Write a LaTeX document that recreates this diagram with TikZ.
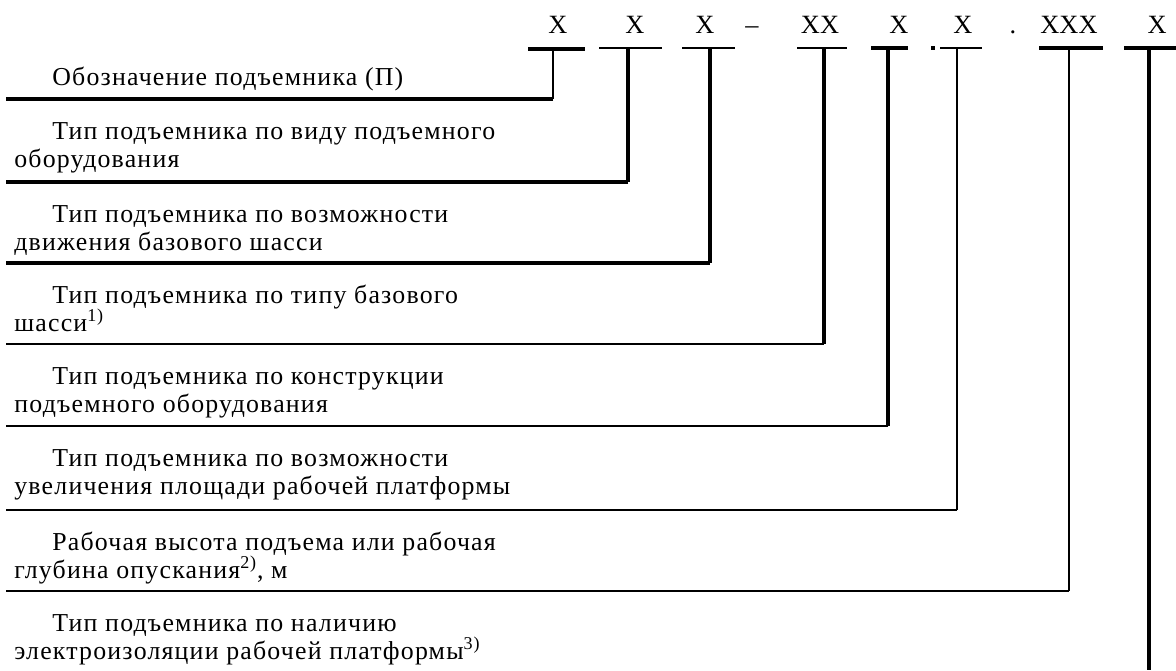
\documentclass[tikz,border=0pt]{standalone}
\usepackage{fontspec}
\setmainfont{Liberation Serif}
\newfontfamily\descfont{Liberation Serif}[LetterSpace=4.7]

\begin{document}
\begin{tikzpicture}[x=0.02cm,y=-0.02cm,
    heavy/.style={line width=1.8pt},
    light/.style={line width=0.9pt}]

  \useasboundingbox (0,0) rectangle (1176,670);

  % code positions
  \begin{scope}[every node/.style={inner sep=0pt,anchor=base,font=\fontsize{15}{18}\selectfont}]
    \node (x1) at (558,33)  {X};
    \node (x2) at (635,33)  {X};
    \node (x3) at (705,33)  {X};
    \node (dash) at (752,33) {--};
    \node (x4) at (820,33)  {XX};
    \node (x5) at (899,33)  {X};
    \node (x6) at (963,33)  {X};
    \node (dot) at (1013,33) {.};
    \node (x7) at (1069,33) {XXX};
    \node (x8) at (1157,33) {X};
  \end{scope}

  % bars under the positions
  \coordinate (l1) at (528,49);  \coordinate (r1) at (585,49);
  \coordinate (l2) at (599,48);  \coordinate (r2) at (662,48);
  \coordinate (l3) at (682,48);  \coordinate (r3) at (735,48);
  \coordinate (l4) at (797,48);  \coordinate (r4) at (847,48);
  \coordinate (l5) at (871,48);  \coordinate (r5) at (908,48);
  \coordinate (l6) at (940,48);  \coordinate (r6) at (982,48);
  \coordinate (l7) at (1039,48); \coordinate (r7) at (1103,48);
  \coordinate (l8) at (1124,48); \coordinate (r8) at (1176,48);

  \draw[heavy] (l1) -- (r1);
  \draw[light] (l2) -- (r2);
  \draw[light] (l3) -- (r3);
  \draw[light] (l4) -- (r4);
  \draw[heavy] (l5) -- (r5);
  \draw[light] (l6) -- (r6);
  \draw[heavy] (l7) -- (r7);
  \draw[heavy] (l8) -- (r8);
  \fill (931,45.5) rectangle (935,49.5);

  % leaders
  \coordinate (t1) at (553,49);  \coordinate (c1) at (553,99);  \coordinate (s1) at (6,99);
  \coordinate (t2) at (628,48);  \coordinate (c2) at (628,182); \coordinate (s2) at (6,182);
  \coordinate (t3) at (710,48);  \coordinate (c3) at (710,263); \coordinate (s3) at (6,263);
  \coordinate (t4) at (824,48);  \coordinate (c4) at (824,344); \coordinate (s4) at (6,344);
  \coordinate (t5) at (888,48);  \coordinate (c5) at (888,426); \coordinate (s5) at (6,426);
  \coordinate (t6) at (957,48);  \coordinate (c6) at (957,510); \coordinate (s6) at (6,510);
  \coordinate (t7) at (1069,48); \coordinate (c7) at (1069,591); \coordinate (s7) at (6,591);
  \coordinate (t8) at (1149,48); \coordinate (c8) at (1149,670);

  \draw[light] (t1) -- (c1);  \draw[heavy] (c1) -- (s1);
  \draw[heavy] (t2) -- (c2);  \draw[heavy] (c2) -- (s2);
  \draw[heavy] (t3) -- (c3);  \draw[heavy] (c3) -- (s3);
  \draw[heavy] (t4) -- (c4);  \draw[light] (c4) -- (s4);
  \draw[heavy] (t5) -- (c5);  \draw[light] (c5) -- (s5);
  \draw[light] (t6) -- (c6);  \draw[light] (c6) -- (s6);
  \draw[light] (t7) -- (c7);  \draw[light] (c7) -- (s7);
  \draw[heavy] (t8) -- (c8);

  % explanations
  \begin{scope}[every node/.style={inner sep=0pt,anchor=base west,font=\descfont\fontsize{14.7}{17}\selectfont}]
    \node (p1)  at (52,85)  {Обозначение подъемника (П)};
    \node (p2a) at (52,139) {Тип подъемника по виду подъемного};
    \node (p2b) at (14,167) {оборудования};
    \node (p3a) at (52,222) {Тип подъемника по возможности};
    \node (p3b) at (14,250) {движения базового шасси};
    \node (p4a) at (52,303) {Тип подъемника по типу базового};
    \node (p4b) at (14,331) {шасси\textsuperscript{1)}};
    \node (p5a) at (52,384) {Тип подъемника по конструкции};
    \node (p5b) at (14,412) {подъемного оборудования};
    \node (p6a) at (52,466) {Тип подъемника по возможности};
    \node (p6b) at (14,494) {увеличения площади рабочей платформы};
    \node (p7a) at (52,550) {Рабочая высота подъема или рабочая};
    \node (p7b) at (14,578) {глубина опускания\textsuperscript{2)}, м};
    \node (p8a) at (52,631) {Тип подъемника по наличию};
    \node (p8b) at (14,659) {электроизоляции рабочей платформы\textsuperscript{3)}};
  \end{scope}

\end{tikzpicture}
\end{document}
